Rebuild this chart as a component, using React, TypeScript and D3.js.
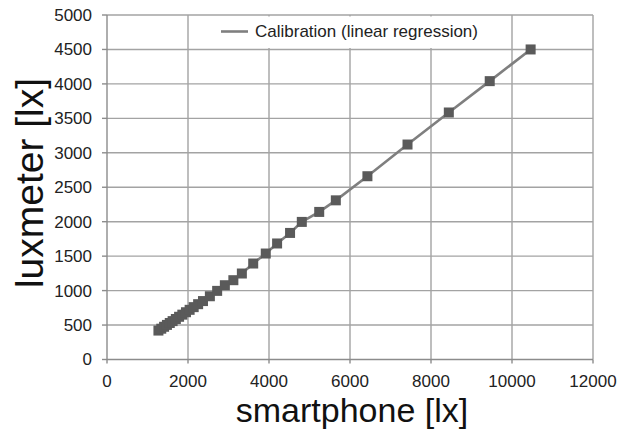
import React from "react";
import * as d3 from "d3";

const smartphone = [1270, 1340, 1410, 1480, 1550, 1620, 1700, 1780, 1860, 1950, 2040, 2140, 2250, 2370, 2540, 2720, 2910, 3120, 3330, 3610, 3920, 4200, 4520, 4810, 5240, 5650, 6430, 7420, 8440, 9450, 10460];
const luxmeter = [420, 447, 475, 502, 530, 557, 588, 620, 651, 686, 721, 760, 803, 848, 918, 996, 1078, 1151, 1248, 1393, 1538, 1684, 1837, 1997, 2142, 2310, 2660, 3120, 3585, 4040, 4500];
const xTicks = [0, 2000, 4000, 6000, 8000, 10000, 12000];
const yTicks = [0, 500, 1000, 1500, 2000, 2500, 3000, 3500, 4000, 4500, 5000];
const seriesName = "Calibration (linear regression)";
const xTitle = "smartphone [lx]";
const yTitle = "luxmeter [lx]";

const W = 632;
const H = 435;
const FONT = "'Liberation Sans', Arial, sans-serif";

export default function App() {
  const x = d3.scaleLinear().domain([0, 12000]).range([107, 593]);
  const y = d3.scaleLinear().domain([0, 5000]).range([359.5, 15]);
  const pts = smartphone.map((v, i) => [v, luxmeter[i]] as [number, number]);
  const line = d3.line<[number, number]>().x(d => x(d[0])).y(d => y(d[1]));
  const grid = "#a3a3a3";
  const ms = 10;
  return (
    <svg width={W} height={H} style={{ position: "absolute", left: 0, top: 0, background: "#fff" }} fontFamily={FONT}>
      <rect x={0} y={0} width={W} height={H} fill="#fff" />
      {/* grid */}
      {xTicks.filter(t => t > 0).map(t => (
        <line key={"gx" + t} x1={x(t)} x2={x(t)} y1={y(0)} y2={y(5000)} stroke={grid} strokeWidth={1.4} />
      ))}
      {yTicks.filter(t => t > 0).map(t => (
        <line key={"gy" + t} x1={x(0)} x2={x(12000)} y1={y(t)} y2={y(t)} stroke={grid} strokeWidth={1.4} />
      ))}
      {/* axes */}
      <line x1={x(0)} x2={x(0)} y1={y(0)} y2={y(5000)} stroke="#8c8c8c" strokeWidth={1.4} />
      <line x1={x(0)} x2={x(12000)} y1={y(0)} y2={y(0)} stroke="#8c8c8c" strokeWidth={1.4} />
      {yTicks.map(t => (
        <g key={"ty" + t}>
          <line x1={x(0) - 5} x2={x(0)} y1={y(t)} y2={y(t)} stroke="#8c8c8c" strokeWidth={1.4} />
          <text x={92} y={y(t)} dy="0.35em" textAnchor="end" fontSize={17} fill="#222">{t}</text>
        </g>
      ))}
      {xTicks.map(t => (
        <g key={"tx" + t}>
          <line x1={x(t)} x2={x(t)} y1={y(0)} y2={y(0) + 4} stroke="#8c8c8c" strokeWidth={1.4} />
          <text x={x(t)} y={387} textAnchor="middle" fontSize={17} fill="#222">{t}</text>
        </g>
      ))}
      {/* legend */}
      <rect x={205} y={16.5} width={290} height={31.5} fill="#fff" />
      <line x1={221} x2={248} y1={31.5} y2={31.5} stroke="#7f7f7f" strokeWidth={2.6} />
      <text x={255} y={31.5} dy="0.35em" fontSize={17} fill="#222">{seriesName}</text>
      {/* series */}
      <path d={line(pts) || ""} fill="none" stroke="#7f7f7f" strokeWidth={2.6} />
      {pts.map((p, i) => (
        <rect key={"m" + i} x={x(p[0]) - ms / 2} y={y(p[1]) - ms / 2} width={ms} height={ms} fill="#5a5a5a" />
      ))}
      {/* titles */}
      <text x={352} y={422} textAnchor="middle" fontSize={34} fill="#111">{xTitle}</text>
      <text transform={`translate(43,183) rotate(-90)`} textAnchor="middle" fontSize={39} fill="#111">{yTitle}</text>
    </svg>
  );
}
